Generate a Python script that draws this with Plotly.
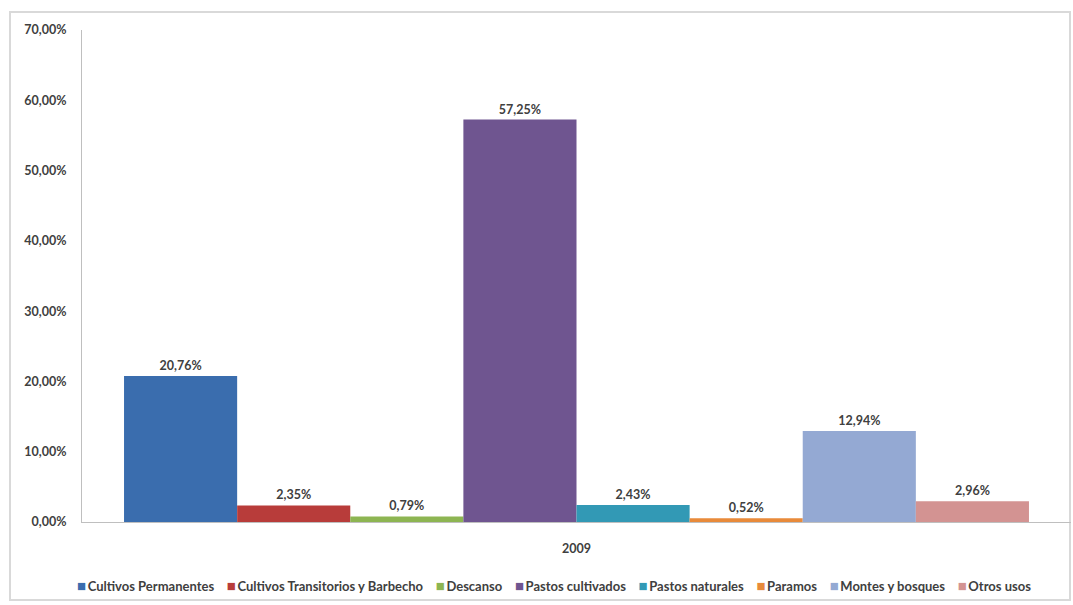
import plotly.graph_objects as go

categories = ["2009"]
series_names = ["Cultivos Permanentes", "Cultivos Transitorios y Barbecho", "Descanso",
                "Pastos cultivados", "Pastos naturales", "Paramos", "Montes y bosques", "Otros usos"]
series_values = [20.76, 2.35, 0.79, 57.25, 2.43, 0.52, 12.94, 2.96]
series_labels = ["20,76%", "2,35%", "0,79%", "57,25%", "2,43%", "0,52%", "12,94%", "2,96%"]
colors = ["#3A6DAE", "#B83C3A", "#8DB552", "#6F5590", "#3299B5", "#E88A3A", "#94A9D3", "#D39392"]
tick_vals = [0, 10, 20, 30, 40, 50, 60, 70]
tick_text = ["0,00%", "10,00%", "20,00%", "30,00%", "40,00%", "50,00%", "60,00%", "70,00%"]

FONT = "Lato, sans-serif"
TXT = "#404040"

fig = go.Figure()
for name, val, lab, col in zip(series_names, series_values, series_labels, colors):
    fig.add_trace(go.Bar(
        x=categories, y=[val], name=name, marker=dict(color=col, line=dict(width=0)),
        text=[lab], textposition="outside", cliponaxis=False,
        textfont=dict(family=FONT, size=12.5, color=TXT, weight="bold"),
    ))

fig.update_layout(
    width=1073, height=605,
    margin=dict(l=82, r=2, t=30, b=83),
    paper_bgcolor="white", plot_bgcolor="white",
    barmode="group", bargap=0.085, bargroupgap=0,
    font=dict(family=FONT, size=12.5, color=TXT, weight="bold"),
    showlegend=False,
    xaxis=dict(showline=True, linecolor="#BFBFBF", linewidth=1, showgrid=False,
               ticks="", ticklabelstandoff=15,
               tickfont=dict(family=FONT, size=12.5, color=TXT, weight="bold")),
    yaxis=dict(range=[0, 70], tickvals=tick_vals, ticktext=tick_text, showgrid=False,
               showline=True, linecolor="#BFBFBF", linewidth=1, ticks="", zeroline=False,
               ticklabelstandoff=12,
               tickfont=dict(family=FONT, size=12.5, color=TXT, weight="bold")),
)

# legend row built from the series names and colours
sep = "\u00a0\u00a0\u00a0\u00a0"
legend_text = sep.join(
    f"<span style='color:{c};font-size:15px'>■</span>\u2009{n}" for n, c in zip(series_names, colors)
)
fig.add_annotation(xref="paper", yref="paper", x=0.477, y=-0.128, xanchor="center",
                   yanchor="middle", showarrow=False, text=legend_text,
                   font=dict(family=FONT, size=13, color=TXT, weight="bold"))

fig.add_shape(type="rect", xref="paper", yref="paper",
              x0=-0.0728, x1=0.999, y0=-0.1585, y1=1.0366,
              line=dict(color="#D9D9D9", width=2), fillcolor="rgba(0,0,0,0)", layer="below")

fig.write_html("out.html")
